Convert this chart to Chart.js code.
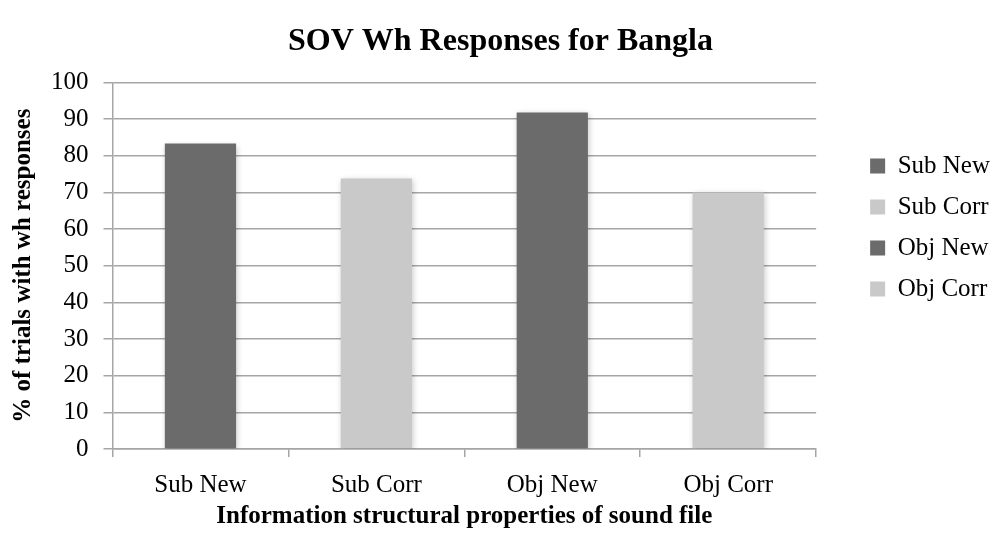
<!DOCTYPE html>
<html>
<head>
  <title>SOV Wh Responses for Bangla</title>
  <script src="https://cdn.jsdelivr.net/npm/chart.js"></script>
  <style>
    body {
      background: #ffffff;
      margin: 0;
      padding: 0;
    }
  </style>
</head>
<body>

<canvas id="chart" width="990" height="537"></canvas>

<script>
  const categories = ['Sub New', 'Sub Corr', 'Obj New', 'Obj Corr'];
  const seriesNames = ['Sub New', 'Sub Corr', 'Obj New', 'Obj Corr'];
  const values = [83.3, 73.8, 91.8, 70.0];
  const yTicks = [0, 10, 20, 30, 40, 50, 60, 70, 80, 90, 100];
  const colors = ['#6b6b6b', '#c9c9c9', '#6b6b6b', '#c9c9c9'];

  // one series per category, stacked so each bar sits centred in its slot
  const datasets = seriesNames.map((name, i) => ({
    label: name,
    data: categories.map((c, j) => (j === i ? values[i] : null)),
    backgroundColor: colors[i],
    borderWidth: 0,
    categoryPercentage: 0.81,
    barPercentage: 0.5
  }));

  const serif = "'Liberation Serif', 'Times New Roman', serif";
  const gridGrey = '#a6a6a6';

  // soft drop shadow under the bars, like the original
  const barShadow = {
    id: 'barShadow',
    beforeDatasetsDraw(chart) {
      const c = chart.ctx;
      c.save();
      c.shadowColor = 'rgba(0,0,0,0.22)';
      c.shadowBlur = 6;
      c.shadowOffsetX = 1;
      c.shadowOffsetY = 2;
    },
    afterDatasetsDraw(chart) {
      chart.ctx.restore();
    }
  };

  // nudge the legend to where it sits in the original
  const legendNudge = {
    id: 'legendNudge',
    afterLayout(chart) {
      const l = chart.legend;
      l.left += 10; l.right += 10;
      l.top -= 43; l.bottom -= 43;
    }
  };

  const ctx = document.getElementById('chart').getContext('2d');
  const chart = new Chart(ctx, {
    type: 'bar',
    data: { labels: categories, datasets: datasets },
    plugins: [barShadow, legendNudge],
    options: {
      responsive: false,
      animation: false,
      devicePixelRatio: 1,
      layout: { padding: { top: 12, right: 0, bottom: 8, left: 11 } },
      plugins: {
        title: {
          display: true,
          text: 'SOV Wh Responses for Bangla',
          color: '#000',
          font: { family: serif, size: 32, weight: 'bold' },
          padding: { top: 11, bottom: 21 }
        },
        legend: {
          position: 'right',
          labels: {
            color: '#000',
            font: { family: serif, size: 25 },
            boxWidth: 15,
            boxHeight: 15,
            padding: 16
          }
        },
        tooltip: { enabled: false }
      },
      scales: {
        x: {
          stacked: true,
          grid: {
            display: true,
            drawOnChartArea: false,
            drawTicks: true,
            offset: true,
            tickLength: 8,
            color: gridGrey,
            lineWidth: 1.5
          },
          border: { color: gridGrey, width: 1.5 },
          ticks: {
            color: '#000',
            font: { family: serif, size: 25, lineHeight: 1 },
            padding: 16
          },
          title: {
            display: true,
            text: 'Information structural properties of sound file',
            color: '#000',
            font: { family: serif, size: 25, weight: 'bold', lineHeight: 1 },
            padding: { top: -10, bottom: 0 }
          }
        },
        y: {
          stacked: true,
          min: 0,
          max: 100,
          afterBuildTicks: scale => {
            scale.ticks = yTicks.map(v => ({ value: v }));
          },
          grid: {
            color: gridGrey,
            lineWidth: 1.5,
            tickLength: 9
          },
          border: { color: gridGrey, width: 1.5 },
          ticks: {
            color: '#000',
            font: { family: serif, size: 25 },
            padding: 15
          },
          title: {
            display: true,
            text: '% of trials with wh responses',
            color: '#000',
            font: { family: serif, size: 25, weight: 'bold', lineHeight: 1 },
            padding: { top: 0, bottom: 0 }
          }
        },
        gap: {
          position: 'right',
          display: true,
          grid: { display: false },
          border: { display: false },
          ticks: { display: false },
          afterFit: scale => { scale.width = 28; }
        }
      }
    }
  });
</script>

</body>
</html>
